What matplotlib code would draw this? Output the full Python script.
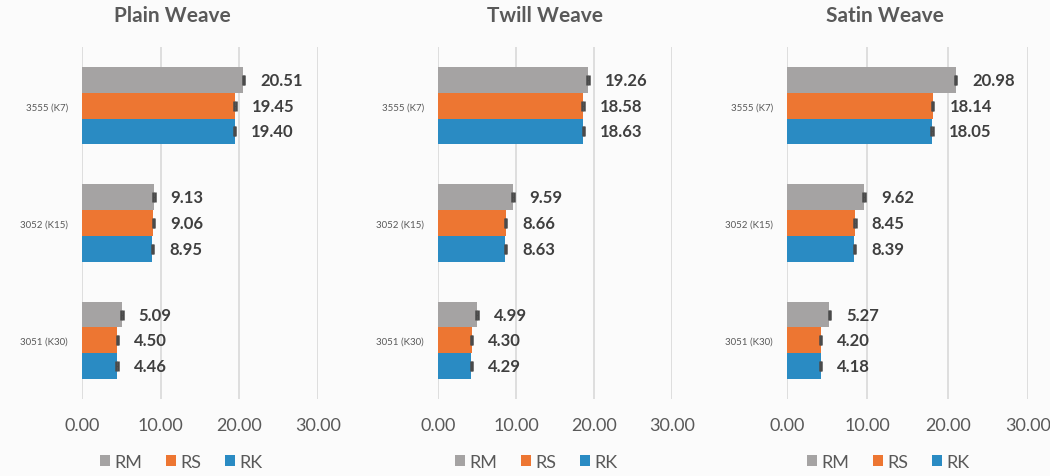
import matplotlib
matplotlib.use("Agg")
import matplotlib.pyplot as plt
import numpy as np

plt.rcParams['font.family'] = ['Lato', 'DejaVu Sans']

categories = ["3555 (K7)", "3052 (K15)", "3051 (K30)"]
series = ["RM", "RS", "RK"]
colors = ["#a5a3a3", "#ed7632", "#2a8bc3"]
titles = ["Plain Weave", "Twill Weave", "Satin Weave"]
xticks = [0, 10, 20, 30]

plain = {"RM": [20.51, 9.13, 5.09], "RS": [19.45, 9.06, 4.50], "RK": [19.40, 8.95, 4.46]}
twill = {"RM": [19.26, 9.59, 4.99], "RS": [18.58, 8.66, 4.30], "RK": [18.63, 8.63, 4.29]}
satin = {"RM": [20.98, 9.62, 5.27], "RS": [18.14, 8.45, 4.20], "RK": [18.05, 8.39, 4.18]}
err = {"RM": 0.1, "RS": 0.08, "RK": 0.08}
data = [plain, twill, satin]

W, H = 1050, 477
fig = plt.figure(figsize=(10.5, 4.77), dpi=100)
fig.patch.set_facecolor("#fbfbfb")

lefts = [82, 438, 787]
widths = [236, 234, 241]
top, bottom = 48, 400
title_x = [172, 545, 885]
txtc = "#595959"

bar_h = 0.22
for i, d in enumerate(data):
    ax = fig.add_axes([lefts[i] / W, 1 - bottom / H, widths[i] / W, (bottom - top) / H])
    ax.set_facecolor("#fbfbfb")
    y = np.arange(len(categories))
    for j, s in enumerate(series):
        yy = y + (j - 1) * bar_h
        ax.barh(yy, d[s], height=bar_h, color=colors[j], label=s, zorder=2)
        ax.errorbar(d[s], yy, xerr=err[s], fmt='none', ecolor="#4a4a4a",
                    elinewidth=0.8, capsize=3.5, capthick=1.8, zorder=3)
        for v, yv in zip(d[s], yy):
            ax.annotate(f"{v:.2f}", (v, yv), xytext=(12, 0), textcoords="offset points",
                        va="center", ha="left", fontsize=12, fontweight="bold", color="#3f3f3f")
    ax.set_ylim(len(categories) - 0.5, -0.5)
    ax.set_xlim(0, 30)
    ax.set_xticks(xticks)
    ax.set_xticklabels([f"{t:.2f}" for t in xticks], fontsize=13, color=txtc)
    ax.set_yticks(y)
    ax.set_yticklabels(categories, fontsize=7, color=txtc)
    ax.tick_params(axis='both', length=0)
    ax.tick_params(axis='x', pad=13)
    ax.tick_params(axis='y', pad=10)
    for sp in ax.spines.values():
        sp.set_visible(False)
    ax.grid(axis='x', color="#d9d9d9", linewidth=1.2, zorder=0)
    ax.set_axisbelow(True)
    fig.text(title_x[i] / W, 1 - 16 / H, titles[i], ha="center", va="center",
             fontsize=15, fontweight="bold", color=txtc)
    leg = fig.legend(*ax.get_legend_handles_labels(), loc="center",
                     bbox_to_anchor=((lefts[i] + widths[i] / 2 - 19) / W, 1 - 463 / H),
                     ncol=3, frameon=False, fontsize=13, handlelength=0.55, handleheight=0.55,
                     handletextpad=0.25, columnspacing=1.3)
    for t in leg.get_texts():
        t.set_color(txtc)

fig.savefig("out.png", dpi=100, facecolor=fig.get_facecolor())
